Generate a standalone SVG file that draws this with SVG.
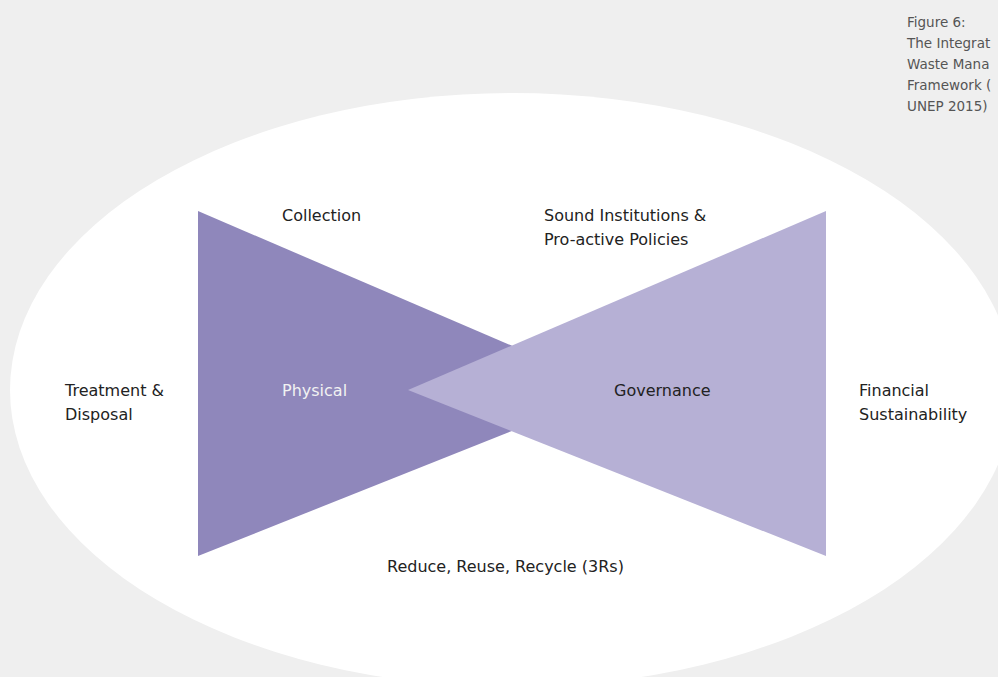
<svg xmlns="http://www.w3.org/2000/svg" width="998" height="677" viewBox="0 0 998 677">
<style>
.lbl{font-family:"DejaVu Sans","Liberation Sans",sans-serif;font-size:16px;fill:#222}
.cap{font-family:"DejaVu Sans","Liberation Sans",sans-serif;font-size:13.5px;fill:#555}
</style>
<rect width="998" height="677" fill="#efefef"/>
<ellipse cx="512" cy="390" rx="502" ry="297" fill="#ffffff"/>
<g id="caption">
<text class="cap" x="907" y="27">Figure 6:</text>
<text class="cap" x="907" y="48">The Integrat</text>
<text class="cap" x="907" y="69">Waste Mana</text>
<text class="cap" x="907" y="90">Framework (</text>
<text class="cap" x="907" y="111">UNEP 2015)</text>
</g>
<g id="physical">
<polygon points="198,211 198,556 615,390" fill="#8f87bb"/>
<text class="lbl" x="282" y="396" style="fill:#f2f2f2">Physical</text>
</g>
<g id="governance">
<polygon points="826,211 826,556 408,390" fill="#b6b0d5"/>
<text class="lbl" x="614" y="396">Governance</text>
</g>
<g id="collection"><text class="lbl" x="282" y="221">Collection</text></g>
<g id="institutions">
<text class="lbl" x="544" y="221">Sound Institutions &amp;</text>
<text class="lbl" x="544" y="245">Pro-active Policies</text>
</g>
<g id="treatment">
<text class="lbl" x="65" y="396">Treatment &amp;</text>
<text class="lbl" x="65" y="420">Disposal</text>
</g>
<g id="financial">
<text class="lbl" x="859" y="396">Financial</text>
<text class="lbl" x="859" y="420">Sustainability</text>
</g>
<g id="threers"><text class="lbl" x="387" y="572">Reduce, Reuse, Recycle (3Rs)</text></g>
<g id="connectors"/>
</svg>
